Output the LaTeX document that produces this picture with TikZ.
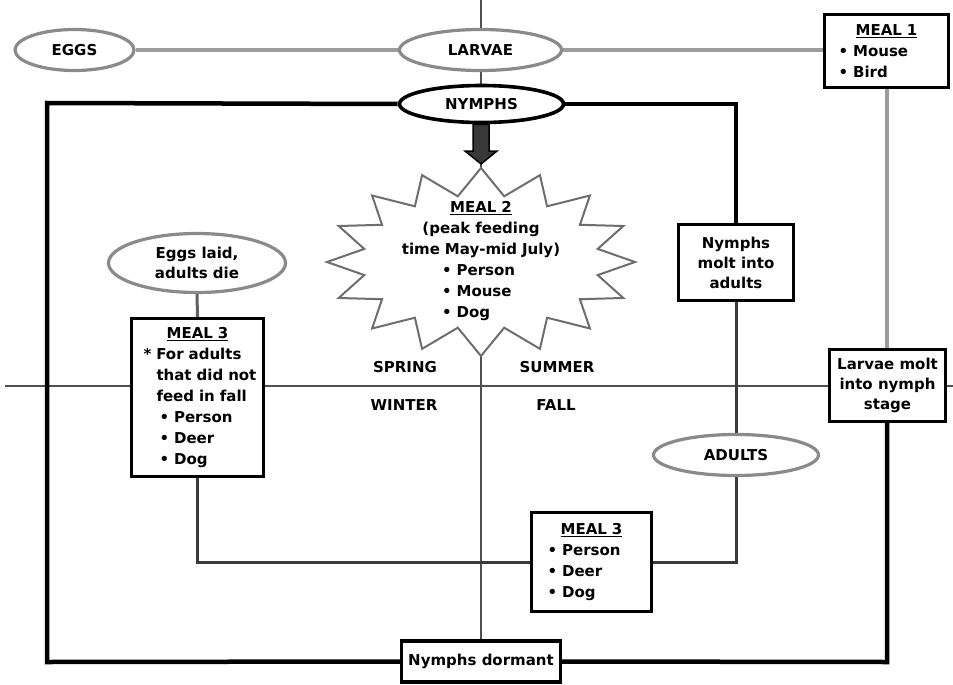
\documentclass[tikz,border=0pt]{standalone}
\usepackage{fontspec}
\setmainfont{DejaVu Sans}
\usetikzlibrary{shapes.geometric,calc,backgrounds}
\definecolor{ringgray}{HTML}{8A8A8A}
\definecolor{linegray}{HTML}{9C9C9C}
\definecolor{axisgray}{HTML}{505050}
\definecolor{loopgray}{HTML}{3A3A3A}
\definecolor{arrowfill}{HTML}{383838}
\begin{document}
\begin{tikzpicture}[x=1pt,y=-1pt,
  every node/.style={font=\bfseries\fontsize{15}{21}\selectfont, text=black},
  stage/.style={ellipse, draw=ringgray, line width=3.2pt, fill=white, inner sep=0pt, align=center},
  darkstage/.style={stage, draw=black, line width=3.6pt},
  mealbox/.style={rectangle, draw=black, line width=3.2pt, fill=white, inner ysep=0pt, align=left},
  infobox/.style={rectangle, draw=black, line width=3.2pt, fill=white, inner sep=0pt, align=center,
    font=\bfseries\fontsize{15}{20}\selectfont},
  season/.style={inner sep=0pt},
  axisline/.style={draw=axisgray, line width=1.5pt},
  grayline/.style={draw=linegray, line width=4pt},
  blackline/.style={draw=black, line width=4.5pt},
  loopline/.style={draw=loopgray, line width=3pt},
  burst/.style={draw=ringgray!80!black, line width=2pt, fill=white, line join=miter}
]
\useasboundingbox (0,0) rectangle (953,685);

% ---- stage ellipses
\node[stage, minimum width=119, minimum height=41] (eggs) at (74.5,50) {EGGS};
\node[stage, minimum width=162, minimum height=41] (larvae) at (480.5,50) {LARVAE};
\node[darkstage, minimum width=164, minimum height=37] (nymphs) at (481.5,104) {NYMPHS};
\node[stage, minimum width=177, minimum height=59] (eggslaid) at (197,263) {Eggs laid,\\[-1pt]adults die};
\node[stage, minimum width=165, minimum height=41] (adults) at (736,455) {ADULTS};

% ---- boxes
\node[mealbox, minimum width=124, minimum height=73, inner xsep=14pt, text width=96pt] (meal1) at (886.5,51)
  {\makebox[\linewidth][c]{\underline{MEAL 1}}\\ • Mouse\\ • Bird};
\node[infobox, minimum width=116, minimum height=72] (lmolt) at (887.5,385.5)
  {Larvae molt\\ into nymph\\ stage};
\node[infobox, minimum width=115, minimum height=76] (nmolt) at (736,262.5)
  {Nymphs\\ molt into\\ adults};
\node[mealbox, minimum width=132, minimum height=158, inner xsep=5pt, text width=122pt] (meal3l) at (197.5,397.5)
  {\makebox[\linewidth][c]{\underline{MEAL 3}}\\
   \hspace*{7pt}* For adults\\
   \hspace*{20pt}\mbox{that did not}\\
   \hspace*{20pt}\mbox{feed in fall}\\
   \hspace*{23pt}• Person\\
   \hspace*{23pt}• Deer\\
   \hspace*{23pt}• Dog};
\node[mealbox, minimum width=120, minimum height=99, inner xsep=16pt, text width=88pt] (meal3b) at (591.5,562)
  {\makebox[\linewidth][c]{\underline{MEAL 3}}\\ • Person\\ • Deer\\ • Dog};
\node[infobox, minimum width=159, minimum height=41] (dormant) at (481,661.5) {Nymphs dormant};

% ---- starburst (meal 2)
\coordinate (burstc) at (481,262);
\coordinate (startop) at ($(burstc)+(0,-94)$);
\begin{scope}[shift={(burstc)}]
  \draw[burst] plot[samples at={0,...,31}, variable=\k]
    ({ifthenelse(mod(\k,2)==0,154,119)*cos(\k*11.25)},
     {-ifthenelse(mod(\k,2)==0,94,67)*sin(\k*11.25)}) -- cycle;
\end{scope}
\node[align=left, text width=170pt, inner sep=0pt] (meal2) at ($(burstc)+(0,-1)$)
  {\makebox[\linewidth][c]{\underline{MEAL 2}}\\
   \makebox[\linewidth][c]{(peak feeding}\\
   \makebox[\linewidth][c]{time May-mid July)}\\
   \hspace*{46pt}• Person\\
   \hspace*{46pt}• Mouse\\
   \hspace*{46pt}• Dog};

% ---- fat arrow nymphs -> meal 2
\coordinate (arrtip) at ($(startop)+(0,-4)$);
\draw[line width=1.5pt, fill=arrowfill, line join=miter]
  ($(nymphs.south -| arrtip)+(-8,0)$) -- ($(arrtip)+(-8,-13)$) -- ($(arrtip)+(-16,-13)$)
  -- (arrtip) -- ($(arrtip)+(16,-13)$) -- ($(arrtip)+(8,-13)$)
  -- ($(nymphs.south -| arrtip)+(8,0)$) -- cycle;

% ---- season labels
\node[season] (spring) at (405,367) {SPRING};
\node[season] (summer) at (557,367) {SUMMER};
\node[season] (winter) at (404,405) {WINTER};
\node[season] (fall) at (556,405) {FALL};

% ---- loop corners
\coordinate (tl) at (47,103);
\coordinate (bl) at (47,662);
\coordinate (br) at (887,662);
\coordinate (axL) at (5,386);
\coordinate (axR) at (953,386);
\coordinate (axT) at (481,0);

\begin{scope}[on background layer]
  \fill[white] (0,0) rectangle (953,685);
  % season axes
  \draw[axisline] (axL) -- (axR);
  \draw[axisline] (axT) -- (dormant.north);
  % gray larval path
  \draw[grayline] (eggs.east) -- (larvae.west);
  \draw[grayline] (larvae.east) -- (larvae.east -| meal1.west);
  \draw[grayline] (meal1.south) -- (meal1.south |- lmolt.north);
  % black nymph loop
  \draw[blackline, line join=miter] (nymphs.west) -- (tl) -- (bl) -- (dormant.west);
  \draw[blackline, line join=miter] (dormant.east) -- (br) -- (br |- lmolt.south);
  \draw[blackline, line join=miter] (nymphs.east) -| (nmolt.north);
  % adult path
  \draw[loopline] (nmolt.south) -- (adults.north);
  \draw[loopline, line join=miter] (adults.south) |- (meal3b.east);
  \draw[loopline, line join=miter] (meal3b.west) -| (meal3l.south);
  \draw[draw=ringgray!70!black, line width=3pt] (eggslaid.south) -- (meal3l.north);
\end{scope}
\end{tikzpicture}
\end{document}
